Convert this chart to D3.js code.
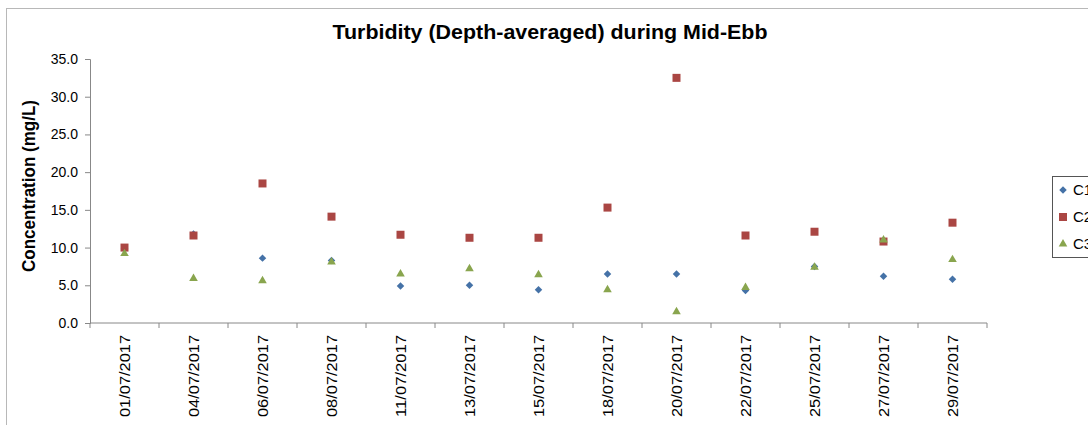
<!DOCTYPE html>
<html lang="en">
<head>
    <meta charset="utf-8">
    <title>Turbidity during Mid-Ebb</title>
    <script src="https://cdn.jsdelivr.net/npm/d3@7"></script>
    <style>
        body { margin: 0; background: #fff; }
        text { font-family: "Liberation Sans", "DejaVu Sans", sans-serif; }
    </style>
</head>
<body>
    <script>
        // Data ------------------------------------------------
        var dates = ["01/07/2017", "04/07/2017", "06/07/2017", "08/07/2017", "11/07/2017",
            "13/07/2017", "15/07/2017", "18/07/2017", "20/07/2017", "22/07/2017",
            "25/07/2017", "27/07/2017", "29/07/2017"];
        var c1 = [9.9, 11.8, 8.6, 8.3, 4.9, 5.0, 4.4, 6.5, 6.5, 4.3, 7.5, 6.2, 5.8];
        var c2 = [10.0, 11.6, 18.5, 14.1, 11.7, 11.3, 11.3, 15.3, 32.5, 11.6, 12.1, 10.8, 13.3];
        var c3 = [9.2, 5.9, 5.6, 8.1, 6.5, 7.2, 6.4, 4.4, 1.5, 4.7, 7.4, 11.0, 8.4];
        var yTicks = [0, 5, 10, 15, 20, 25, 30, 35];

        var series = [
            { name: "C1", values: c1, color: "#4572a7", shape: d3.symbolSquare, size: 28, rot: 45 },
            { name: "C2", values: c2, color: "#aa4643", shape: d3.symbolSquare, size: 64, rot: 0 },
            { name: "C3", values: c3, color: "#89a54e", shape: d3.symbolTriangle, size: 32, rot: 0 }
        ];

        var w = 1088, h = 425;
        var plotLeft = 90, plotRight = 987, plotTop = 59, plotBottom = 323;

        var svg = d3.select("body").append("svg")
            .attr("width", w)
            .attr("height", h);

        // outer chart frame
        svg.append("rect")
            .attr("x", 6.5).attr("y", 8.5)
            .attr("width", w + 20).attr("height", h + 20)
            .attr("fill", "none")
            .attr("stroke", "#b8b8b8");

        // Scales
        var x = d3.scaleBand().domain(dates).range([plotLeft, plotRight]);
        var y = d3.scaleLinear().domain([0, 35]).range([plotBottom, plotTop]);

        // Y axis
        var yAxis = svg.append("g")
            .attr("transform", "translate(" + plotLeft + ",0)")
            .call(d3.axisLeft(y).tickValues(yTicks).tickFormat(d3.format(".1f"))
                .tickSize(5).tickPadding(7));
        yAxis.select(".domain").attr("stroke", "#888");
        yAxis.selectAll(".tick line").attr("stroke", "#888");
        yAxis.selectAll("text").attr("font-size", "14px").attr("fill", "#000");

        // X axis: ticks between categories
        var xg = svg.append("g").attr("transform", "translate(0," + plotBottom + ")");
        xg.append("line")
            .attr("x1", plotLeft).attr("x2", plotRight)
            .attr("stroke", "#888");
        xg.selectAll("line.tk")
            .data(dates.concat(["end"]))
            .enter().append("line")
            .attr("class", "tk")
            .attr("x1", function(d, i) { return plotLeft + i * x.step(); })
            .attr("x2", function(d, i) { return plotLeft + i * x.step(); })
            .attr("y1", 0).attr("y2", 5)
            .attr("stroke", "#888");
        xg.selectAll("text")
            .data(dates)
            .enter().append("text")
            .attr("transform", function(d) {
                return "translate(" + (x(d) + x.bandwidth() / 2 + 5) + ",12) rotate(-90)";
            })
            .attr("text-anchor", "end")
            .attr("font-size", "15px")
            .attr("textLength", 82)
            .attr("lengthAdjust", "spacingAndGlyphs")
            .text(function(d) { return d; });

        // Points
        series.forEach(function(s) {
            svg.append("g").selectAll("path")
                .data(s.values)
                .enter().append("path")
                .attr("d", d3.symbol().type(s.shape).size(s.size))
                .attr("transform", function(d, i) {
                    return "translate(" + (x(dates[i]) + x.bandwidth() / 2) + "," + y(d) + ") rotate(" + s.rot + ")";
                })
                .attr("fill", s.color);
        });

        // Title
        svg.append("text")
            .attr("x", 550).attr("y", 39)
            .attr("text-anchor", "middle")
            .attr("font-size", "20px")
            .attr("font-weight", "bold")
            .attr("textLength", 435)
            .attr("lengthAdjust", "spacingAndGlyphs")
            .text("Turbidity (Depth-averaged) during Mid-Ebb");

        // Y axis title
        svg.append("text")
            .attr("transform", "translate(35,186) rotate(-90)")
            .attr("text-anchor", "middle")
            .attr("font-size", "18px")
            .attr("font-weight", "bold")
            .attr("textLength", 172)
            .attr("lengthAdjust", "spacingAndGlyphs")
            .text("Concentration (mg/L)");

        // Legend
        var lg = svg.append("g");
        lg.append("rect")
            .attr("x", 1052.5).attr("y", 176.5)
            .attr("width", 60).attr("height", 81)
            .attr("fill", "#fff")
            .attr("stroke", "#555");
        lg.selectAll("g.item")
            .data(series)
            .enter().append("g")
            .attr("class", "item")
            .attr("transform", function(d, i) { return "translate(1063," + (190 + i * 27) + ")"; })
            .each(function(d) {
                var g = d3.select(this);
                g.append("path")
                    .attr("d", d3.symbol().type(d.shape).size(d.size))
                    .attr("transform", "rotate(" + d.rot + ")")
                    .attr("fill", d.color);
                g.append("text")
                    .attr("x", 10).attr("y", 5)
                    .attr("font-size", "15px")
                    .text(d.name);
            });
    </script>
</body>
</html>
